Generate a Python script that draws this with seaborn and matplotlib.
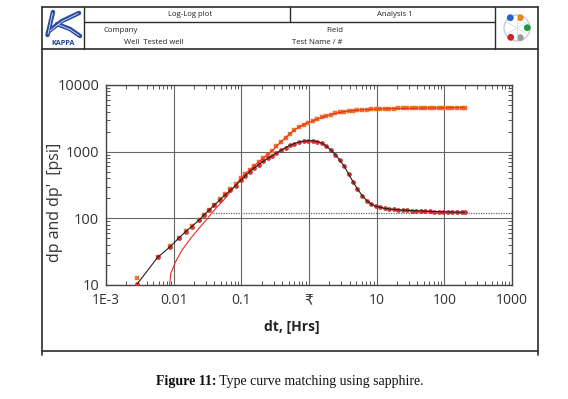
import numpy as np
import pandas as pd
import seaborn as sns
import matplotlib.pyplot as plt
from matplotlib.patches import Circle

# Values
dt = [0.0029, 0.0058, 0.0089, 0.012, 0.015, 0.0184, 0.0237, 0.028, 0.0335, 0.040,
      0.048, 0.0575, 0.069, 0.082, 0.098, 0.115, 0.133, 0.155, 0.18, 0.21,
      0.245, 0.285, 0.33, 0.385, 0.45, 0.52, 0.61, 0.71, 0.83, 0.97,
      1.13, 1.32, 1.54, 1.8, 2.1, 2.45, 2.85, 3.3, 3.85, 4.5,
      5.2, 6.1, 7.1, 8.3, 9.7, 11.3, 13.2, 15.4, 18, 21,
      24.5, 28.5, 33, 38.5, 45, 52, 61, 71, 83, 97,
      113, 132, 154, 180, 200]
dp = [12.9, 26.5, 38, 51.5, 63.5, 76, 95, 113, 135, 161,
      192, 230, 272, 328, 398, 470, 535, 615, 700, 800,
      905, 1030, 1200, 1400, 1620, 1860, 2100, 2340, 2550, 2730,
      2900, 3080, 3260, 3430, 3600, 3750, 3880, 3980, 4060, 4130,
      4190, 4240, 4280, 4320, 4350, 4375, 4395, 4415, 4430, 4445,
      4455, 4465, 4475, 4485, 4495, 4505, 4515, 4525, 4535, 4545,
      4555, 4560, 4565, 4570, 4575]
dp_deriv = [10.4, 26, 37.6, 51, 63, 75, 94, 112, 133, 158,
            188, 224, 262, 310, 370, 435, 500, 570, 640, 715,
            790, 870, 955, 1050, 1150, 1240, 1320, 1390, 1440, 1460,
            1455, 1420, 1350, 1210, 1060, 900, 750, 610, 460, 350,
            275, 220, 185, 163, 152, 146, 141, 138, 136, 134.5,
            133, 132, 131, 130, 129, 128, 127, 126.5, 126, 125.5,
            125, 124.5, 124, 123.5, 123]

# early part of the model pressure curve (before it joins the data)
model_dt_early = [0.0087, 0.0091, 0.0106, 0.0133, 0.0178, 0.0237, 0.0316, 0.042, 0.056, 0.079, 0.098]
model_dp_early = [10, 15, 22, 33.5, 50, 71, 100, 141, 193, 300, 398]

stab_level = 120
stab_start = 0.038

x_ticks = [1e-3, 1e-2, 1e-1, 1, 10, 100, 1000]
x_labels = ["1E-3", "0.01", "0.1", "₹", "10", "100", "1000"]
y_ticks = [10, 100, 1000, 10000]
y_labels = ["10", "100", "1000", "10000"]

data = pd.DataFrame({"dt": dt, "dp": dp, "deriv": dp_deriv})
tail = data[data["dt"] > 0.1]
model_p = pd.DataFrame({"dt": model_dt_early + list(tail["dt"]),
                        "dp": model_dp_early + list(tail["dp"])})

sns.set_style("ticks")
plt.rcParams["font.family"] = ["Open Sans", "DejaVu Sans"]

W, H = 568, 399
fig = plt.figure(figsize=(W / 100, H / 100), dpi=100)

# overlay in pixel coordinates for the page frame / header
ov = fig.add_axes([0, 0, 1, 1], zorder=0)
ov.set_xlim(0, W)
ov.set_ylim(H, 0)
ov.axis("off")

fc = "#2b2b2b"
L, R, T, HB, B = 42, 538, 6.7, 49.3, 351
ov.plot([L, R], [T, T], color=fc, lw=1.2)
ov.plot([L, R], [HB, HB], color=fc, lw=1.2)
ov.plot([L, R], [B, B], color=fc, lw=1.2)
ov.plot([L, L], [T, B + 4], color=fc, lw=1.2)
ov.plot([R, R], [T, B + 4], color=fc, lw=1.2)
ov.plot([84, 84], [T, HB], color=fc, lw=1.0)
ov.plot([495, 495], [T, HB], color=fc, lw=1.0)
ov.plot([84, 495], [21.7, 21.7], color=fc, lw=1.0)
ov.plot([290, 290], [T, 21.7], color=fc, lw=1.0)

hs = 5.6
ov.text(190, 14.5, "Log-Log plot", ha="center", va="center", fontsize=hs, color="#222")
ov.text(395, 14.5, "Analysis 1", ha="center", va="center", fontsize=hs, color="#222")
ov.text(104, 31, "Company", ha="left", va="center", fontsize=hs, color="#222")
ov.text(124, 42.3, "Well  Tested well", ha="left", va="center", fontsize=hs, color="#222")
ov.text(343, 31, "Field", ha="right", va="center", fontsize=hs, color="#222")
ov.text(343, 42.3, "Test Name / #", ha="right", va="center", fontsize=hs, color="#222")

# KAPPA logo
kb = "#2a4aa0"
ov.plot([53, 47.5], [12, 35], color=kb, lw=3.2, solid_capstyle="round")
ov.plot([79, 62, 49], [13, 21, 31], color=kb, lw=3.2, solid_capstyle="round")
ov.plot([57, 70, 80], [24, 29, 36], color=kb, lw=3.2, solid_capstyle="round")
ov.plot([52.5, 48], [13, 34], color="white", lw=0.5)
ov.plot([78, 62, 50], [13.5, 21.5, 31], color="white", lw=0.5)
ov.plot([58, 70, 79], [24.5, 29.5, 35.5], color="white", lw=0.5)
ov.text(63, 43.5, "KAPPA", ha="center", va="center", fontsize=5.2,
        fontweight="bold", color="#1f3f99")

# wheel logo
ov.add_patch(Circle((517, 28), 13, fill=False, ec="#b4cddd", lw=0.9))
for ang in np.deg2rad([30, 90, 150, 210, 270, 330]):
    ov.plot([517, 517 + 13 * np.cos(ang)], [28, 28 + 13 * np.sin(ang)], color="#cfdfea", lw=0.6)
for (cx, cy), col in zip([(510.3, 17.7), (520.3, 17.7), (527.3, 27.7), (510.7, 37.3), (520.3, 37.7)],
                         ["#2a62c8", "#e08a20", "#1e9a3a", "#d42028", "#9a9a9a"]):
    ov.add_patch(Circle((cx, cy), 3.4, color=col, lw=0))

# caption
rend = fig.canvas.get_renderer()
cap_b = ov.text(0, 382, "Figure 11:", ha="left", va="center", fontsize=10,
                fontweight="bold", family="Liberation Serif", color="#111")
cap_r = ov.text(0, 382, " Type curve matching using sapphire.", ha="left", va="center",
                fontsize=10, family="Liberation Serif", color="#111")
wb = cap_b.get_window_extent(rend).width
wr = cap_r.get_window_extent(rend).width
x0 = 290 - (wb + wr) / 2
cap_b.set_x(x0)
cap_r.set_x(x0 + wb)

# main log-log plot
ax = fig.add_axes([106 / W, 1 - 285 / H, 406 / W, 200 / H], zorder=2)
ax.set(xscale="log", yscale="log")

sns.scatterplot(data=data, x="dt", y="dp", marker="s", s=5, color="#f07a2a",
                edgecolor="#e86a20", linewidth=0.3, ax=ax, zorder=3)
sns.scatterplot(data=data, x="dt", y="deriv", marker="o", s=8, color="#e6322c",
                edgecolor="#b01a18", linewidth=0.4, ax=ax, zorder=3)
sns.lineplot(data=model_p, x="dt", y="dp", color="#ec2a22", lw=0.8,
             estimator=None, sort=False, ax=ax, zorder=4)
sns.lineplot(data=data, x="dt", y="deriv", color="#202020", lw=0.8,
             estimator=None, sort=False, ax=ax, zorder=4)
ax.plot([stab_start, 1000], [stab_level, stab_level], color="#666666",
        lw=0.9, ls=(0, (1, 1)), zorder=2)

ax.set_xlim(1e-3, 1e3)
ax.set_ylim(10, 1e4)
ax.set_xticks(x_ticks, labels=x_labels)
ax.set_yticks(y_ticks, labels=y_labels)
ax.grid(True, which="major", color="#666666", lw=0.8)
ax.tick_params(which="major", direction="in", length=0, labelsize=10,
               labelcolor="#333333", pad=6)
ax.tick_params(axis="y", which="major", labelsize=10.5, pad=5)
ax.tick_params(which="minor", direction="in", length=3, width=0.7,
               color="#555555", top=True, right=True)
for sp in ax.spines.values():
    sp.set_color("#444444")
    sp.set_linewidth(1.0)

ax.set_xlabel("dt, [Hrs]", fontsize=10, fontweight="bold", color="#222", va="center")
ax.xaxis.set_label_coords(0.458, -0.21)
ax.set_ylabel("dp and dp'  [psi]", fontsize=11.5, color="#333", va="center")
ax.yaxis.set_label_coords(-0.126, 0.415)

fig.savefig("out.png", dpi=100)
